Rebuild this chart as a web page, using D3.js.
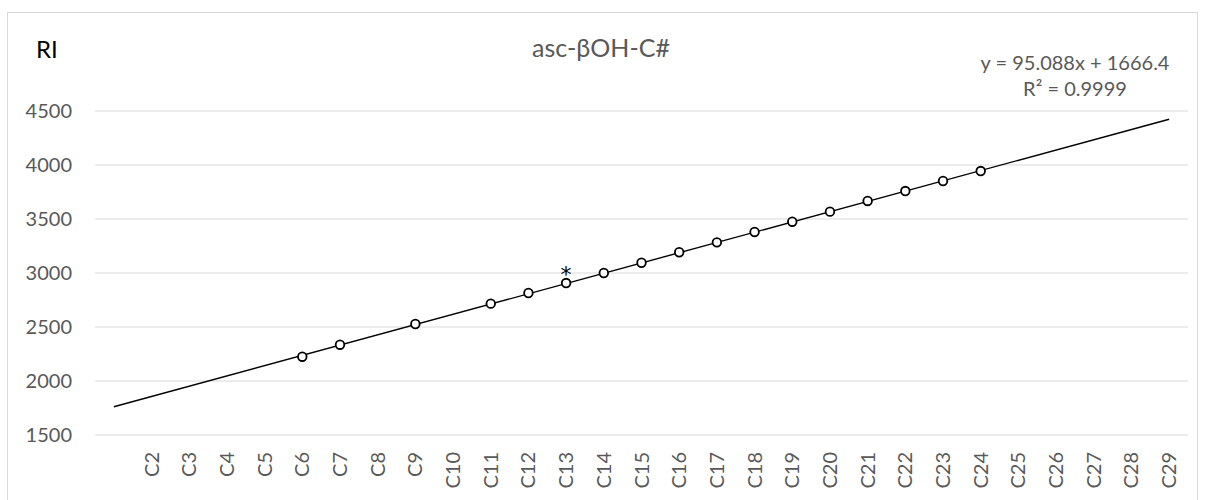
<!DOCTYPE html>
<html>
<head>
<meta charset="utf-8">
<script src="https://cdn.jsdelivr.net/npm/d3@7"></script>
<style>
  body { margin: 0; background: #fff; }
  text { font-family: Lato, "Open Sans", sans-serif; }
</style>
</head>
<body>
<div class="container"></div>
<script>
// categories along the x axis (first slot is blank)
const categories = ["", "C2", "C3", "C4", "C5", "C6", "C7", "C8", "C9", "C10", "C11", "C12", "C13", "C14", "C15",
  "C16", "C17", "C18", "C19", "C20", "C21", "C22", "C23", "C24", "C25", "C26", "C27", "C28", "C29"]

// measured points
const pointCats = ["C6", "C7", "C9", "C11", "C12", "C13", "C14", "C15", "C16", "C17", "C18", "C19", "C20", "C21", "C22", "C23", "C24"]
const pointValues = [2225, 2336, 2528, 2716, 2815, 2907, 3000, 3095, 3192, 3284, 3380, 3475, 3568, 3667, 3759, 3852, 3944]

// marked point
const starCat = "C13"

const yTicks = [1500, 2000, 2500, 3000, 3500, 4000, 4500]

// trendline y = slope * x + intercept, x = 1..29
const slope = 95.088
const intercept = 1666.4
const eqLabel = "y = 95.088x + 1666.4"
const r2Label = "R² = 0.9999"

const w = 1207
const h = 500

const svg = d3.select(".container")
              .append("svg")
              .attr("width", w)
              .attr("height", h)

svg.append("rect")
   .attr("x", 7.5).attr("y", 12.5)
   .attr("width", 1190).attr("height", 500)
   .attr("fill", "none")
   .attr("stroke", "#d9d9d9")

const xScale = d3.scaleBand()
                 .domain(categories)
                 .range([95, 1188])
const bw = xScale.bandwidth()
const cx = (c) => xScale(c) + bw / 2

const yScale = d3.scaleLinear()
                 .domain([1500, 4500])
                 .range([435, 111])

// gridlines
svg.append("g")
   .selectAll("line")
   .data(yTicks)
   .enter()
   .append("line")
   .attr("x1", 95).attr("x2", 1188)
   .attr("y1", d => yScale(d)).attr("y2", d => yScale(d))
   .attr("stroke", "#d9d9d9")
   .attr("stroke-width", 1.2)

// y axis labels
const yAxis = d3.axisLeft(yScale).tickValues(yTicks).tickSize(0).tickPadding(0).tickFormat(d => d)
const gy = svg.append("g")
              .attr("transform", "translate(72,0)")
              .call(yAxis)
gy.attr("font-size", null).attr("font-family", null)
gy.select(".domain").remove()
gy.selectAll("text")
  .style("font-size", "20px")
  .attr("fill", "#595959")

// x axis labels
const xAxis = d3.axisBottom(xScale).tickSize(0).tickPadding(0)
const gx = svg.append("g")
              .attr("transform", "translate(0,452)")
              .call(xAxis)
gx.attr("font-size", null).attr("font-family", null)
gx.select(".domain").remove()
gx.selectAll("text")
  .attr("transform", "rotate(-90)")
  .attr("text-anchor", "end")
  .attr("x", 0)
  .attr("y", 0)
  .attr("dy", "0.35em")
  .style("font-size", "20px")
  .attr("fill", "#595959")

// trendline
const x0 = 1, x1 = categories.length
svg.append("line")
   .attr("x1", cx(categories[x0 - 1]))
   .attr("y1", yScale(slope * x0 + intercept))
   .attr("x2", cx(categories[x1 - 1]))
   .attr("y2", yScale(slope * x1 + intercept))
   .attr("stroke", "#000")
   .attr("stroke-width", 1.4)

// markers
svg.append("g")
   .selectAll("circle")
   .data(pointCats)
   .enter()
   .append("circle")
   .attr("cx", d => cx(d))
   .attr("cy", (d, i) => yScale(pointValues[i]))
   .attr("r", 4.3)
   .attr("fill", "#fff")
   .attr("stroke", "#000")
   .attr("stroke-width", 1.8)

const si = pointCats.indexOf(starCat)
svg.append("text")
   .attr("x", cx(starCat))
   .attr("y", yScale(pointValues[si]) - 1)
   .attr("text-anchor", "middle")
   .style("font-family", "'DejaVu Sans', sans-serif")
   .style("font-size", "22px")
   .attr("fill", "#000")
   .text("*")

// titles
svg.append("text")
   .attr("x", 601).attr("y", 57)
   .attr("text-anchor", "middle")
   .style("font-size", "25px")
   .attr("fill", "#595959")
   .text("asc-βOH-C#")

svg.append("text")
   .attr("x", 36).attr("y", 58)
   .style("font-size", "24px")
   .attr("fill", "#000")
   .text("RI")

svg.append("text")
   .attr("x", 1075).attr("y", 70)
   .attr("text-anchor", "middle")
   .style("font-size", "20px")
   .attr("fill", "#595959")
   .text(eqLabel)

svg.append("text")
   .attr("x", 1075).attr("y", 96)
   .attr("text-anchor", "middle")
   .style("font-size", "20px")
   .attr("fill", "#595959")
   .text(r2Label)
</script>
</body>
</html>
